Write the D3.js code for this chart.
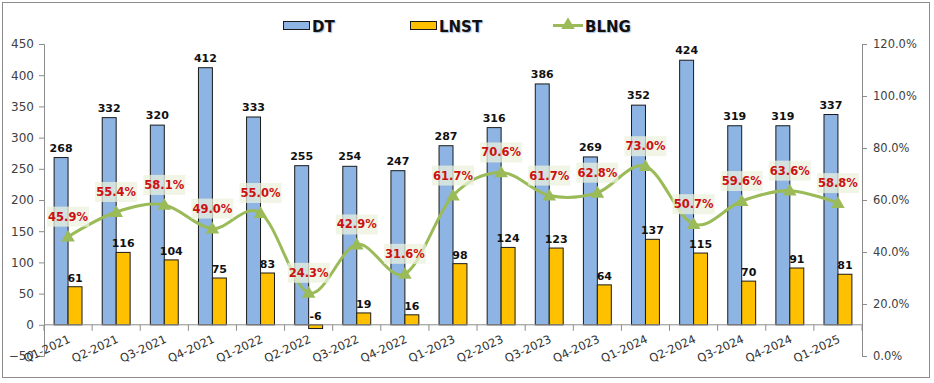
<!DOCTYPE html>
<html>
<head>
<meta charset="utf-8">
<script src="https://d3js.org/d3.v7.min.js"></script>
<style>
  body { margin: 0; background: #fff; }
  svg text { font-family: "DejaVu Sans", Verdana, sans-serif; }
</style>
</head>
<body>
<div id="chart"></div>
<script>
// quarters
var quarters = ["Q1-2021","Q2-2021","Q3-2021","Q4-2021","Q1-2022","Q2-2022","Q3-2022","Q4-2022",
                "Q1-2023","Q2-2023","Q3-2023","Q4-2023","Q1-2024","Q2-2024","Q3-2024","Q4-2024","Q1-2025"];
var dt   = [268,332,320,412,333,255,254,247,287,316,386,269,352,424,319,319,337];
var lnst = [61,116,104,75,83,-6,19,16,98,124,123,64,137,115,70,91,81];
var blng = [45.9,55.4,58.1,49.0,55.0,24.3,42.9,31.6,61.7,70.6,61.7,62.8,73.0,50.7,59.6,63.6,58.8];
var leftTicks  = [-50,0,50,100,150,200,250,300,350,400,450];
var rightTicks = [0,20,40,60,80,100,120];

var W = 934, H = 383;
var svg = d3.select("#chart").append("svg")
    .attr("width", W).attr("height", H);

// outer frame
svg.append("rect")
    .attr("x", 2.5).attr("y", 2.5).attr("width", 927).attr("height", 375)
    .attr("fill", "#fff").attr("stroke", "#8c8c8c").attr("stroke-width", 1);

var x = d3.scaleBand().domain(quarters).range([44, 862]);
var sub = d3.scaleBand().domain(["DT","LNST"]).range([x.bandwidth()*0.21, x.bandwidth()*0.79]);
var yL = d3.scaleLinear().domain([-50, 450]).range([356, 44]);
var yR = d3.scaleLinear().domain([0, 120]).range([356, 44]);

// left axis
var gl = svg.append("g").attr("transform", "translate(44,0)")
    .call(d3.axisLeft(yL).tickValues(leftTicks).tickSize(5).tickPadding(5));
gl.select(".domain").attr("stroke", "#8c8c8c");
gl.selectAll(".tick line").attr("stroke", "#8c8c8c");
gl.selectAll("text").attr("font-size", 12).attr("fill", "#404040")
    .style("font-family", "DejaVu Sans, sans-serif");

// right axis
var gr = svg.append("g").attr("transform", "translate(862,0)")
    .call(d3.axisRight(yR).tickValues(rightTicks).tickSize(5).tickPadding(6)
        .tickFormat(function(d) { return d.toFixed(1) + "%"; }));
gr.select(".domain").attr("stroke", "#8c8c8c");
gr.selectAll(".tick line").attr("stroke", "#8c8c8c");
gr.selectAll("text").attr("font-size", 11.5).attr("fill", "#404040")
    .style("font-family", "DejaVu Sans, sans-serif");

// bars
var g = svg.append("g");
g.selectAll("rect.dt").data(dt).enter().append("rect")
    .attr("class", "dt")
    .attr("x", function(d, i) { return x(quarters[i]) + sub("DT"); })
    .attr("y", function(d) { return yL(d); })
    .attr("width", sub.bandwidth())
    .attr("height", function(d) { return yL(0) - yL(d); })
    .attr("fill", "#8db4e2").attr("stroke", "#1a1a1a").attr("stroke-width", 1);

g.selectAll("rect.ln").data(lnst).enter().append("rect")
    .attr("class", "ln")
    .attr("x", function(d, i) { return x(quarters[i]) + sub("LNST"); })
    .attr("y", function(d) { return yL(Math.max(d, 0)); })
    .attr("width", sub.bandwidth())
    .attr("height", function(d) { return Math.abs(yL(0) - yL(d)); })
    .attr("fill", "#ffc000").attr("stroke", "#1a1a1a").attr("stroke-width", 1);

// x axis
var gx = svg.append("g").attr("transform", "translate(0," + yL(0) + ")");
gx.append("line").attr("x1", 44).attr("x2", 862).attr("stroke", "#8c8c8c");
gx.selectAll("line.tk").data(quarters.concat(["end"])).enter().append("line")
    .attr("class", "tk")
    .attr("x1", function(d, i) { return 44 + i * x.step(); })
    .attr("x2", function(d, i) { return 44 + i * x.step(); })
    .attr("y1", 0).attr("y2", 6).attr("stroke", "#8c8c8c");
gx.selectAll("text").data(quarters).enter().append("text")
    .attr("transform", function(d) {
        return "translate(" + (x(d) + x.bandwidth() / 2 + 3) + ",17) rotate(-25)";
    })
    .attr("text-anchor", "end")
    .attr("font-size", 11.5).attr("fill", "#333")
    .text(function(d) { return d; });

// bar labels
g.selectAll("text.dtl").data(dt).enter().append("text")
    .attr("x", function(d, i) { return x(quarters[i]) + sub("DT") + sub.bandwidth() / 2; })
    .attr("y", function(d) { return yL(d) - 6; })
    .attr("text-anchor", "middle")
    .attr("font-size", 11).attr("font-weight", "bold").attr("fill", "#111")
    .text(function(d) { return d; });

g.selectAll("text.lnl").data(lnst).enter().append("text")
    .attr("x", function(d, i) { return x(quarters[i]) + sub("LNST") + sub.bandwidth() / 2; })
    .attr("y", function(d) { return yL(Math.max(d, 0)) - 5; })
    .attr("text-anchor", "middle")
    .attr("font-size", 11).attr("font-weight", "bold").attr("fill", "#111")
    .text(function(d) { return d; });

// BLNG line
var cx = function(i) { return x(quarters[i]) + x.bandwidth() / 2; };
var line = d3.line()
    .x(function(d, i) { return cx(i); })
    .y(function(d) { return yR(d); })
    .curve(d3.curveCatmullRom.alpha(0));
svg.append("path").datum(blng)
    .attr("d", line)
    .attr("fill", "none").attr("stroke", "#9bbb59").attr("stroke-width", 3);

var tri = d3.symbol().type(d3.symbolTriangle).size(80);
svg.selectAll("path.mk").data(blng).enter().append("path")
    .attr("class", "mk")
    .attr("d", tri)
    .attr("transform", function(d, i) { return "translate(" + cx(i) + "," + (yR(d) + 1) + ")"; })
    .attr("fill", "#9bbb59");

// BLNG labels
var pl = svg.selectAll("g.pl").data(blng).enter().append("g")
    .attr("transform", function(d, i) { return "translate(" + cx(i) + "," + (yR(d) - 20) + ")"; });
pl.append("rect")
    .attr("x", -21).attr("y", -10).attr("width", 42).attr("height", 20)
    .attr("fill", "#ebf1de").attr("opacity", 0.75);
pl.append("text")
    .attr("y", 4).attr("text-anchor", "middle")
    .attr("font-size", 11.5).attr("font-weight", "bold").attr("fill", "#cc1010")
    .text(function(d) { return d.toFixed(1) + "%"; });

// legend
var lg = svg.append("g").style("text-shadow", "1px 1px 1px rgba(79,129,189,0.5)");
lg.append("rect").attr("x", 283.5).attr("y", 21.5).attr("width", 26).attr("height", 8)
    .attr("fill", "#8db4e2").attr("stroke", "#1a1a1a");
lg.append("text").attr("x", 312).attr("y", 32).text("DT");
lg.append("rect").attr("x", 410.5).attr("y", 21.5).attr("width", 26).attr("height", 8)
    .attr("fill", "#ffc000").attr("stroke", "#1a1a1a");
lg.append("text").attr("x", 439).attr("y", 32).text("LNST");
lg.append("line").attr("x1", 553).attr("x2", 583).attr("y1", 25.5).attr("y2", 25.5)
    .attr("stroke", "#9bbb59").attr("stroke-width", 3);
lg.append("path").attr("d", tri).attr("transform", "translate(568,25)").attr("fill", "#9bbb59");
lg.append("text").attr("x", 585).attr("y", 32).text("BLNG");
lg.selectAll("text").attr("font-size", 15).attr("font-weight", "bold").attr("fill", "#111");
</script>
</body>
</html>
